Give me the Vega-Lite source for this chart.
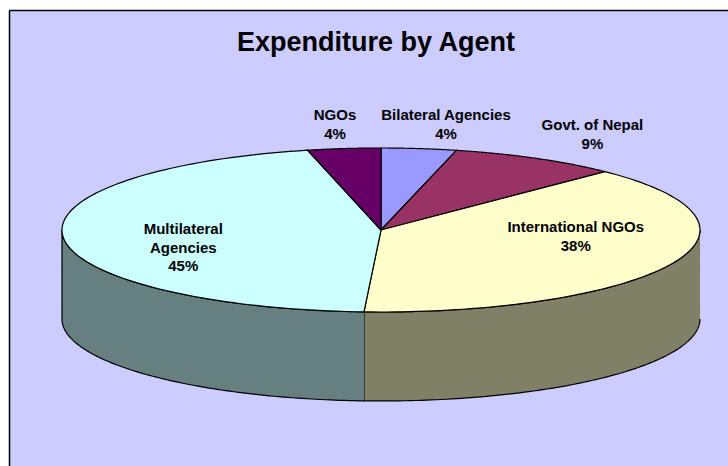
{
"$schema":"https://vega.github.io/schema/vega-lite/v6.json",
"width":719,"height":456,
"autosize":{"type":"none"},
"padding":{"left":9,"top":10,"right":0,"bottom":0},
"background":"#FFFFFF",
"view":{"fill":"#CCCCFF","stroke":null},
"title":{"text":"Expenditure by Agent","font":"Liberation Sans","fontSize":27,"fontWeight":"bold","color":"#000000","anchor":"middle","frame":"group","offset":-60,"dx":7.5,"baseline":"middle"},
"data":{"values":[
{"rank":1,"agent":"Bilateral Agencies","name":"Bilateral Agencies","share":3.8},
{"rank":2,"agent":"Govt. of Nepal","name":"Govt. of Nepal","share":8.6},
{"rank":3,"agent":"International NGOs","name":"International NGOs","share":38.45},
{"rank":4,"agent":"Multilateral Agencies","name":"Multilateral\nAgencies","share":45.45},
{"rank":5,"agent":"NGOs","name":"NGOs","share":3.7}
]},
"transform":[
{"window":[{"op":"sum","field":"share","as":"end"}],"sort":[{"field":"rank"}]},
{"calculate":"datum.end-datum.share","as":"start"},
{"calculate":"datum.name+'\\n'+format(datum.share,'.0f')+'%'","as":"label"}
],
"encoding":{
"x":{"field":"x","type":"quantitative","title":null,"scale":{"domain":[-1.1661,1.0878],"nice":false,"zero":false},"axis":{"orient":"top","grid":false,"ticks":false,"labels":false,"domain":true,"domainColor":"#000000","domainWidth":1.5}},
"y":{"field":"y","type":"quantitative","title":null,"scale":{"domain":[-2.878,2.683],"nice":false,"zero":false},"axis":{"orient":"left","grid":false,"ticks":false,"labels":false,"domain":true,"domainColor":"#000000","domainWidth":1.5}}
},
"layer":[
{"transform":[
{"calculate":"max(datum.start,25)","as":"ws"},
{"calculate":"min(datum.end,75)","as":"we"},
{"filter":"datum.we>datum.ws"},
{"calculate":"sequence(0,202)","as":"i"},
{"flatten":["i"]},
{"calculate":"datum.i<=100?datum.i/100:(201-datum.i)/100","as":"frac"},
{"calculate":"datum.i<=100?0:1.085","as":"depth"},
{"calculate":"2*PI*(datum.ws+datum.frac*(datum.we-datum.ws))/100","as":"theta"},
{"calculate":"sin(datum.theta)","as":"x"},
{"calculate":"cos(datum.theta)-datum.depth","as":"y"}
],
"mark":{"type":"line","stroke":"#000000","strokeWidth":1.2,"clip":false},
"encoding":{
"fill":{"field":"agent","type":"nominal","legend":null,"scale":{"domain":["International NGOs","Multilateral Agencies"],"range":["#808066","#668080"]}},
"order":{"field":"i","type":"quantitative"}
}},
{"transform":[
{"calculate":"sequence(0,103)","as":"i"},
{"flatten":["i"]},
{"calculate":"(datum.i==0||datum.i==102)?0:1","as":"r"},
{"calculate":"(min(max(datum.i,1),101)-1)/100","as":"frac"},
{"calculate":"2*PI*(datum.start+datum.frac*datum.share)/100","as":"theta"},
{"calculate":"datum.r*sin(datum.theta)","as":"x"},
{"calculate":"datum.r*cos(datum.theta)","as":"y"}
],
"mark":{"type":"line","stroke":"#000000","strokeWidth":1.2,"clip":false},
"encoding":{
"fill":{"field":"agent","type":"nominal","legend":null,"scale":{"domain":["Bilateral Agencies","Govt. of Nepal","International NGOs","Multilateral Agencies","NGOs"],"range":["#9999FF","#993366","#FFFFCC","#CCFFFF","#660066"]}},
"order":{"field":"i","type":"quantitative"}
}},
{"transform":[{"filter":"datum.rank==1"},{"calculate":"2*PI*(datum.start+datum.share/2)/100","as":"theta"},{"calculate":"sin(datum.theta)","as":"x"},{"calculate":"cos(datum.theta)","as":"y"}],
"mark":{"type":"text","font":"Liberation Sans","fontWeight":"bold","fontSize":15,"lineBreak":"\n","lineHeight":19,"color":"#000000","dx":27,"dy":-33.5,"baseline":"middle","align":"center"},
"encoding":{"text":{"field":"label"}}},
{"transform":[{"filter":"datum.rank==2"},{"calculate":"2*PI*(datum.start+datum.share/2)/100","as":"theta"},{"calculate":"sin(datum.theta)","as":"x"},{"calculate":"cos(datum.theta)","as":"y"}],
"mark":{"type":"text","font":"Liberation Sans","fontWeight":"bold","fontSize":15,"lineBreak":"\n","lineHeight":19,"color":"#000000","dx":56,"dy":-33,"baseline":"middle","align":"center"},
"encoding":{"text":{"field":"label"}}},
{"transform":[{"filter":"datum.rank==3"},{"calculate":"2*PI*(datum.start+datum.share/2)/100","as":"theta"},{"calculate":"sin(datum.theta)","as":"x"},{"calculate":"cos(datum.theta)","as":"y"}],
"mark":{"type":"text","font":"Liberation Sans","fontWeight":"bold","fontSize":15,"lineBreak":"\n","lineHeight":19,"color":"#000000","dx":-97,"dy":-36,"baseline":"middle","align":"center"},
"encoding":{"text":{"field":"label"}}},
{"transform":[{"filter":"datum.rank==4"},{"calculate":"2*PI*(datum.start+datum.share/2)/100","as":"theta"},{"calculate":"sin(datum.theta)","as":"x"},{"calculate":"cos(datum.theta)","as":"y"}],
"mark":{"type":"text","font":"Liberation Sans","fontWeight":"bold","fontSize":15,"lineBreak":"\n","lineHeight":18.5,"color":"#000000","dx":120,"dy":-8,"baseline":"middle","align":"center"},
"encoding":{"text":{"field":"label"}}},
{"transform":[{"filter":"datum.rank==5"},{"calculate":"2*PI*(datum.start+datum.share/2)/100","as":"theta"},{"calculate":"sin(datum.theta)","as":"x"},{"calculate":"cos(datum.theta)","as":"y"}],
"mark":{"type":"text","font":"Liberation Sans","fontWeight":"bold","fontSize":15,"lineBreak":"\n","lineHeight":19,"color":"#000000","dx":-9,"dy":-33.5,"baseline":"middle","align":"center"},
"encoding":{"text":{"field":"label"}}}
],
"resolve":{"scale":{"fill":"independent"}}
}
